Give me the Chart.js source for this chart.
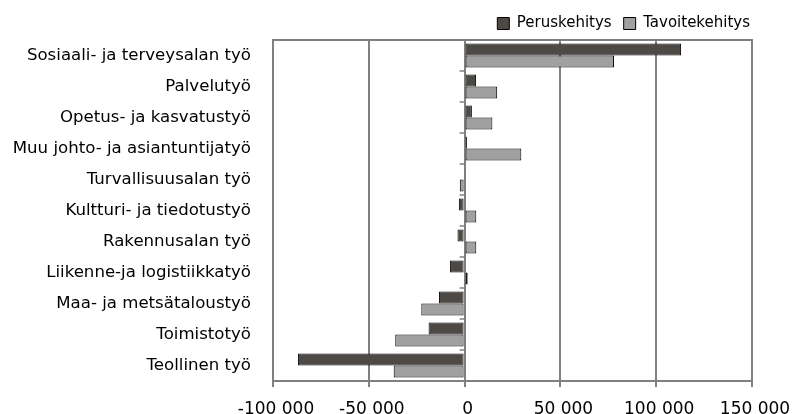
<!DOCTYPE html>
<html><head><meta charset="utf-8">
<script src="https://cdn.jsdelivr.net/npm/chart.js@4"></script>
<style>html,body{margin:0;padding:0;background:#fff}#wrap{width:794px;height:414px}</style>
</head><body><div id="wrap"><canvas id="c" width="794" height="414"></canvas></div>
<script>
const categories = ["Sosiaali- ja terveysalan työ","Palvelutyö","Opetus- ja kasvatustyö","Muu johto- ja asiantuntijatyö","Turvallisuusalan työ","Kultturi- ja tiedotustyö","Rakennusalan työ","Liikenne-ja logistiikkatyö","Maa- ja metsätaloustyö","Toimistotyö","Teollinen työ"];
const peruskehitys = [113000, 6000, 3800, 1200, 0, -3000, -3700, -7700, -13400, -18800, -87000];
const tavoitekehitys = [78000, 17000, 14500, 29600, -2500, 6100, 6100, 1600, -22600, -36200, -37000];
const xTicks = [-100000, -50000, 0, 50000, 100000, 150000];

const fmt = v => (v < 0 ? "-" : "") + Math.abs(v).toString().replace(/\B(?=(\d{3})+(?!\d))/g, " ");
const FONT = "'DejaVu Sans', sans-serif";

const framePlugin = {
  id: 'frame',
  beforeInit(chart) {
    const lg = chart.legend;
    if (lg) {
      const orig = lg.fit.bind(lg);
      lg.fit = function () { orig(); this.height = 36; };
    }
  },
  afterLayout(chart) {
    if (chart.legend) { chart.legend.right = chart.chartArea.right + 10; }
  },
  afterDatasetsDraw(chart) {
    const {ctx, chartArea: a, scales: {x, y}} = chart;
    ctx.save();
    ctx.strokeStyle = '#808080';
    ctx.lineWidth = 2;
    ctx.strokeRect(a.left, a.top, a.right - a.left, a.bottom - a.top);
    const zx = x.getPixelForValue(0);
    ctx.lineWidth = 1.5;
    for (let i = 1; i < categories.length; i++) {
      const yy = (y.getPixelForValue(i - 1) + y.getPixelForValue(i)) / 2;
      ctx.beginPath(); ctx.moveTo(zx - 5, yy); ctx.lineTo(zx, yy); ctx.stroke();
    }
    ctx.restore();
  }
};

new Chart(document.getElementById('c'), {
  type: 'bar',
  data: {
    labels: categories,
    datasets: [
      {label: 'Peruskehitys', data: peruskehitys, backgroundColor: '#4d4944', borderColor: '#000', borderWidth: 1, borderSkipped: false},
      {label: 'Tavoitekehitys', data: tavoitekehitys, backgroundColor: '#a0a0a0', borderColor: '#000', borderWidth: 1, borderSkipped: false}
    ]
  },
  options: {
    indexAxis: 'y',
    responsive: false,
    animation: false,
    devicePixelRatio: 1,
    layout: {padding: {left: 0, right: 0, top: 4, bottom: 0}},
    datasets: {bar: {categoryPercentage: 0.78, barPercentage: 1.0}},
    plugins: {
      legend: {
        position: 'top', align: 'end',
        labels: {boxWidth: 12, boxHeight: 12, color: '#000', font: {family: FONT, size: 15}, padding: 12}
      },
      tooltip: {enabled: false}
    },
    scales: {
      x: {
        min: -100000, max: 150000,
        afterBuildTicks: s => { s.ticks = xTicks.map(v => ({value: v})); },
        afterFit: s => { s.height = 33; s.paddingLeft = 0; s.paddingRight = 42; },
        ticks: {callback: v => fmt(v), color: '#000', font: {family: FONT, size: 17}, padding: 12, labelOffset: 3, maxRotation: 0},
        grid: {color: '#808080', lineWidth: 2, tickLength: 6, drawTicks: true},
        border: {color: '#808080', width: 2}
      },
      y: {
        afterFit: s => { s.width = 273; },
        ticks: {color: '#000', font: {family: FONT, size: 16.6}, padding: 22},
        grid: {display: false, drawTicks: false},
        border: {display: false}
      }
    }
  },
  plugins: [framePlugin]
});
</script></body></html>
